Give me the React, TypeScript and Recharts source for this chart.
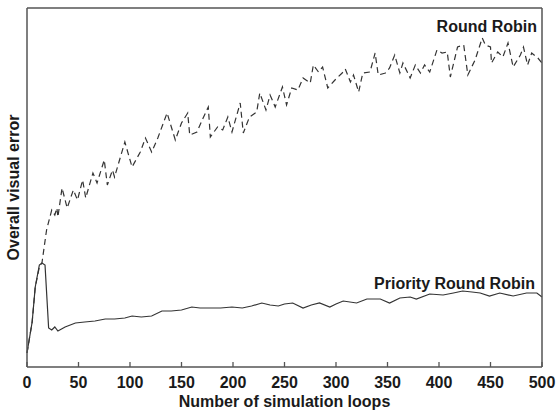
import React from 'react';
import { LineChart, Line, XAxis, YAxis, ReferenceDot } from 'recharts';

// Loop ticks along the x axis
const loopTicks = [0, 50, 100, 150, 200, 250, 300, 350, 400, 450, 500];

// Round Robin (dashed)
const rrLoops = [0, 5, 8, 12, 14.5, 19, 24, 27, 29, 30, 34, 39, 45, 49, 54, 57, 64, 68, 75, 78, 83, 85, 95, 102, 110, 115, 121, 127, 136, 144, 150, 156, 158, 165, 171, 176, 178, 185, 190, 195, 199, 207, 210, 216, 223, 226, 232, 236, 241, 248, 252, 257, 263, 268, 275, 278, 283, 287, 292, 299, 306, 309, 314, 317, 322, 326, 333, 338, 341, 348, 352, 357, 362, 365, 372, 377, 382, 386, 391, 398, 403, 408, 411, 418, 424, 428, 435, 442, 445, 450, 451, 457, 462, 467, 472, 479, 482, 486, 490, 496, 500];
const rrError = [14, 45, 80, 100, 104, 137, 157, 152, 159, 150, 179, 159, 177, 167, 187, 169, 194, 184, 207, 182, 197, 190, 225, 200, 215, 229, 215, 229, 254, 227, 244, 254, 232, 235, 249, 260, 230, 240, 237, 250, 235, 264, 234, 250, 255, 274, 257, 272, 260, 280, 262, 279, 277, 289, 284, 302, 295, 300, 279, 287, 294, 298, 285, 292, 275, 294, 295, 314, 292, 294, 299, 312, 294, 304, 289, 302, 294, 302, 295, 317, 314, 315, 290, 320, 322, 292, 307, 329, 322, 320, 304, 315, 310, 324, 300, 312, 320, 302, 314, 309, 304];

// Priority Round Robin (solid)
const prrLoops = [0, 5, 8, 12, 14.5, 17.5, 21, 24, 27, 30, 37, 47, 56, 66, 76, 85, 95, 102, 111, 121, 131, 140, 150, 160, 168, 176, 188, 199, 209, 218, 228, 236, 244, 250, 258, 268, 276, 284, 294, 300, 307, 320, 330, 343, 352, 362, 372, 378, 391, 404, 414, 423, 432, 440, 449, 459, 472, 485, 495, 500];
const prrError = [14, 45, 80, 102, 104, 102, 39, 37, 40, 36, 40, 44, 45, 46, 48, 48, 49, 51, 50, 51, 56, 56, 57, 60, 59, 59, 59, 60, 59, 61, 64, 62, 61, 63, 64, 59, 62, 64, 60, 63, 66, 64, 68, 68, 64, 69, 70, 68, 73, 72, 74, 76, 75, 74, 71, 74, 71, 74, 74, 70];

const rrData = rrLoops.map((x, i) => ({ x, y: rrError[i] }));
const prrData = prrLoops.map((x, i) => ({ x, y: prrError[i] }));

const FONT = '"Liberation Sans", Arial, Helvetica, sans-serif';
const INK = '#1a1a1a';
const LINE = '#333';
const FRAME = '#555';

const BottomTick = ({ x, y, payload }: any) => (
  <g>
    <line x1={x} x2={x} y1={y} y2={y - 5} stroke={FRAME} strokeWidth={1.3} />
    <text x={x} y={y + 21} textAnchor="middle" fontSize={16} fontWeight="bold" fill={INK} fontFamily={FONT}>
      {payload.value}
    </text>
  </g>
);

const TopTick = ({ x, y }: any) => (
  <line x1={x} x2={x} y1={y + 1} y2={y + 6} stroke={FRAME} strokeWidth={1.3} />
);

export default function App() {
  return (
    <div style={{ position: 'absolute', left: 0, top: 0, background: '#fff', fontFamily: FONT }}>
      <LineChart width={558} height={410} margin={{ top: 7, right: 0, bottom: 0, left: 0 }}>
        <XAxis
          dataKey="x"
          type="number"
          domain={[0, 500]}
          ticks={loopTicks}
          interval={0}
          height={43}
          tickSize={0}
          tickMargin={0}
          tickLine={false}
          tick={<BottomTick />}
          axisLine={{ stroke: FRAME, strokeWidth: 1.5 }}
          label={{ value: 'Number of simulation loops', position: 'insideBottom', offset: 3, fontSize: 16, fontWeight: 'bold', fill: INK, fontFamily: FONT }}
        />
        <XAxis
          xAxisId="top"
          orientation="top"
          dataKey="x"
          type="number"
          domain={[0, 500]}
          ticks={loopTicks}
          interval={0}
          height={1}
          tickSize={0}
          tickMargin={0}
          tickLine={false}
          tick={<TopTick />}
          axisLine={{ stroke: FRAME, strokeWidth: 1.5 }}
        />
        <YAxis
          type="number"
          domain={[0, 359]}
          width={27}
          tick={false}
          tickLine={false}
          axisLine={{ stroke: FRAME, strokeWidth: 1.5 }}
          label={{ value: 'Overall visual error', angle: -90, position: 'center', fontSize: 16, fontWeight: 'bold', fill: INK, fontFamily: FONT }}
        />
        <YAxis
          yAxisId="right"
          orientation="right"
          type="number"
          domain={[0, 359]}
          width={16}
          tick={false}
          tickLine={false}
          axisLine={{ stroke: FRAME, strokeWidth: 1.5 }}
        />
        <Line
          data={rrData}
          dataKey="y"
          type="linear"
          stroke={LINE}
          strokeWidth={1.2}
          strokeDasharray="6 4"
          dot={false}
          isAnimationActive={false}
        />
        <Line
          data={prrData}
          dataKey="y"
          type="linear"
          stroke={LINE}
          strokeWidth={1.2}
          dot={false}
          isAnimationActive={false}
        />
        <ReferenceDot
          x={500}
          y={341}
          r={0}
          ifOverflow="visible"
          label={{ value: 'Round Robin', position: 'left', offset: 5, fontSize: 16, fontWeight: 'bold', fill: INK, fontFamily: FONT }}
        />
        <ReferenceDot
          x={498}
          y={84}
          r={0}
          ifOverflow="visible"
          label={{ value: 'Priority Round Robin', position: 'left', offset: 5, fontSize: 16, fontWeight: 'bold', fill: INK, fontFamily: FONT }}
        />
      </LineChart>
    </div>
  );
}
